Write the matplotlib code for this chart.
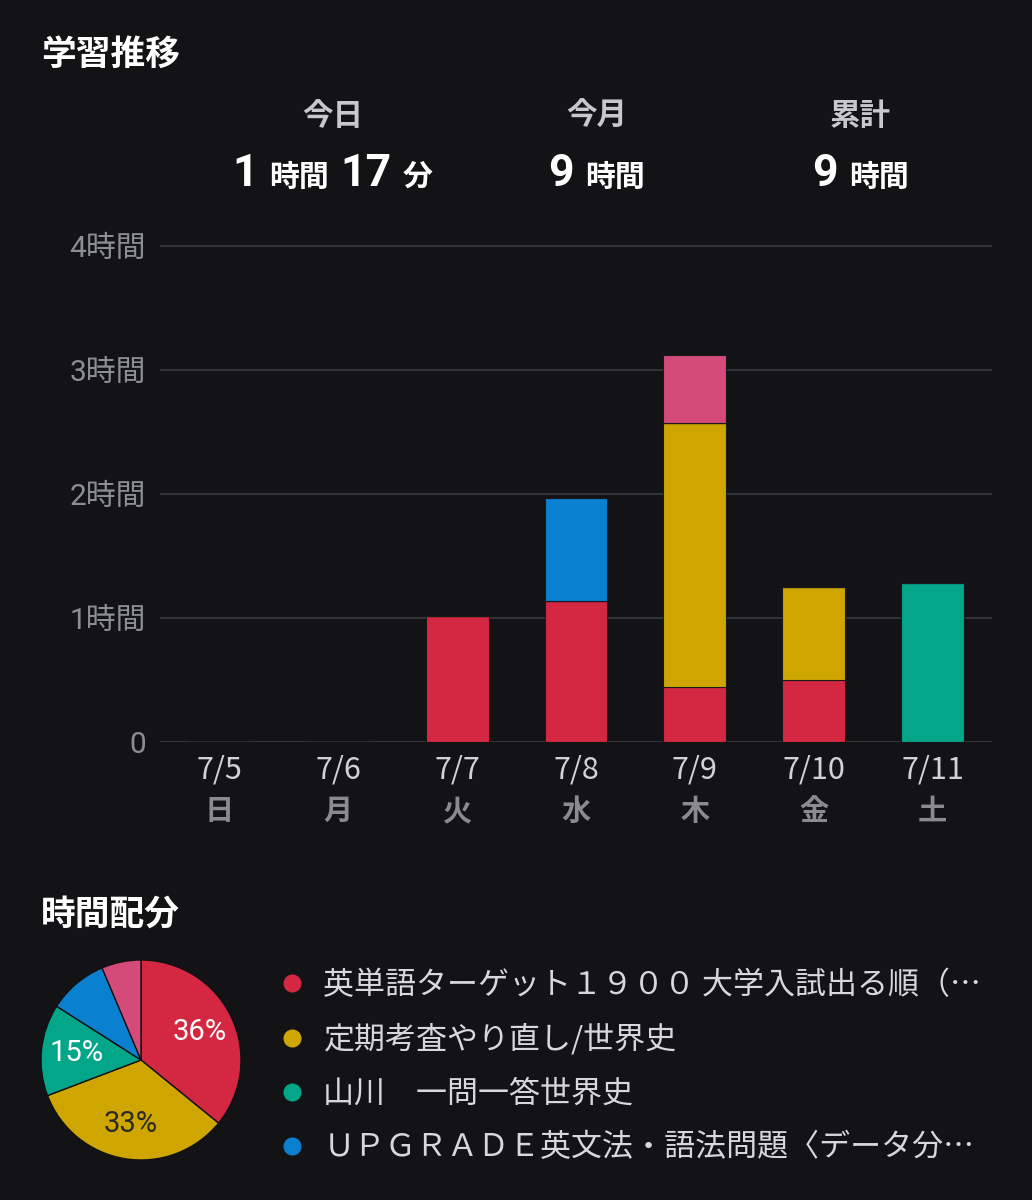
import matplotlib
matplotlib.use("Agg")
import matplotlib.pyplot as plt
import numpy as np
from matplotlib.lines import Line2D

# ---- data -------------------------------------------------------------
days = ["7/5", "7/6", "7/7", "7/8", "7/9", "7/10", "7/11"]
weekdays = ["日", "月", "火", "水", "木", "金", "土"]

# hours per subject per day
eitango = [0, 0, 1.02, 1.14, 0.44, 0.50, 0]      # 英単語ターゲット
sekaishi = [0, 0, 0, 0, 2.13, 0.75, 0]           # 定期考査やり直し/世界史
yamakawa = [0, 0, 0, 0, 0, 0, 1.28]              # 山川 一問一答
upgrade = [0, 0, 0, 0.83, 0, 0, 0]               # UPGRADE
other = [0, 0, 0, 0, 0.55, 0, 0]                 # (not in legend)

series = [eitango, sekaishi, yamakawa, upgrade, other]
colors = ["#D42742", "#CFA600", "#04A689", "#0A80D0", "#D44B7A"]

legend_labels = [
    "英単語ターゲット１９００ 大学入試出る順（…",
    "定期考査やり直し/世界史",
    "山川　一問一答世界史",
    "ＵＰＧＲＡＤＥ英文法・語法問題〈データ分…",
]

y_ticks = [0, 1, 2, 3, 4]
y_labels = ["0", "1時間", "2時間", "3時間", "4時間"]

summary_titles = ["今日", "今月", "累計"]

BG = "#131315"
GRID = "#3a3b3f"
FONT = ["Roboto", "Noto Sans CJK JP", "DejaVu Sans"]
JP = ["Noto Sans CJK JP", "DejaVu Sans"]

plt.rcParams["font.family"] = FONT

W, H = 1032, 1200
fig = plt.figure(figsize=(W / 100, H / 100), dpi=100, facecolor=BG)


def fx(px):
    return px / W


def fy(py):
    return 1 - py / H


# ---- titles / header --------------------------------------------------
fig.text(fx(41), fy(54), "学習推移", family=JP, fontsize=25, fontweight="bold",
         color="white", ha="left", va="center")
fig.text(fx(41), fy(914), "時間配分", family=JP, fontsize=25, fontweight="bold",
         color="white", ha="left", va="center")

for title, cx in zip(summary_titles, [333, 597, 860]):
    fig.text(fx(cx), fy(116), title, family=JP, fontsize=22, color="#c8c8ca",
             ha="center", va="center", fontweight="bold")

# big numbers with small units
pieces = [
    ("1", 232, 32), ("時間", 269, 21.5), ("17", 340, 32), ("分", 403, 21.5),
    ("9", 548, 32), ("時間", 585, 21.5),
    ("9", 812, 32), ("時間", 849, 21.5),
]
for txt, x, size in pieces:
    fig.text(fx(x), fy(186), txt, fontsize=size, fontweight="bold",
             color="white", ha="left", va="baseline")

# ---- stacked bars -----------------------------------------------------
ax = fig.add_axes([fx(160), fy(742), fx(992) - fx(160), (742 - 244) / H])
ax.set_facecolor(BG)
x = np.arange(len(days))
bottom = np.zeros(len(days))
for vals, c in zip(series, colors):
    vals = np.array(vals, dtype=float)
    ax.bar(x, vals, width=0.53, bottom=bottom, color=c,
           edgecolor="#1a1a1c", linewidth=0.8, zorder=3)
    bottom += vals

ax.set_xlim(-0.5, len(days) - 0.5)
ax.set_ylim(0, 4 * 498 / 496)
for yv in y_ticks:
    ax.axhline(yv, color=GRID, linewidth=1.2, zorder=1)
for s in ax.spines.values():
    s.set_visible(False)
ax.set_yticks(y_ticks)
ax.set_yticklabels(y_labels)
ax.tick_params(axis="y", length=0, pad=10, labelsize=21.5, labelcolor="#8b8e94")
ax.set_xticks(x)
ax.set_xticklabels([])
ax.tick_params(axis="x", length=0)

trans = ax.get_xaxis_transform()
for i, (d, wd) in enumerate(zip(days, weekdays)):
    ax.text(i, -28 / 498, d, transform=trans, family=JP, fontsize=22,
            color="#d2d2d4", ha="center", va="center")
    ax.text(i, -69 / 498, wd, transform=trans, family=JP, fontsize=21,
            color="#8a8b8f", ha="center", va="center", fontweight="bold")

# ---- pie --------------------------------------------------------------
totals = [sum(s) for s in series]
pax = fig.add_axes([fx(40), fy(1161), 202 / W, 202 / H])
pax.set_facecolor(BG)


def pct_label(p):
    return f"{p:.0f}%" if p >= 12 else ""


wedges, _, autotexts = pax.pie(
    totals, colors=colors, startangle=90, counterclock=False,
    autopct=pct_label, pctdistance=0.65,
    wedgeprops=dict(edgecolor="#111112", linewidth=1),
    textprops=dict(fontsize=21, color="white", family=FONT),
)
autotexts[1].set_color("#2a2a2a")
pax.set_xlim(-1.01, 1.01)
pax.set_ylim(-1.01, 1.01)
pax.set_aspect("equal")
pax.axis("off")

# ---- legend -----------------------------------------------------------
handles = [Line2D([], [], linestyle="none", marker="o", markersize=12,
                  markerfacecolor=c, markeredgecolor=c)
           for c in colors[:len(legend_labels)]]
leg = fig.legend(handles, legend_labels, loc="upper left",
                 bbox_to_anchor=(fx(277), fy(970)), frameon=False,
                 handlelength=1.0, handletextpad=0.5, labelspacing=0.74,
                 prop=dict(family=JP, size=22.3),
                 labelcolor="#d8d8da", borderpad=0, borderaxespad=0)

fig.savefig("out.png", dpi=100, facecolor=BG)
